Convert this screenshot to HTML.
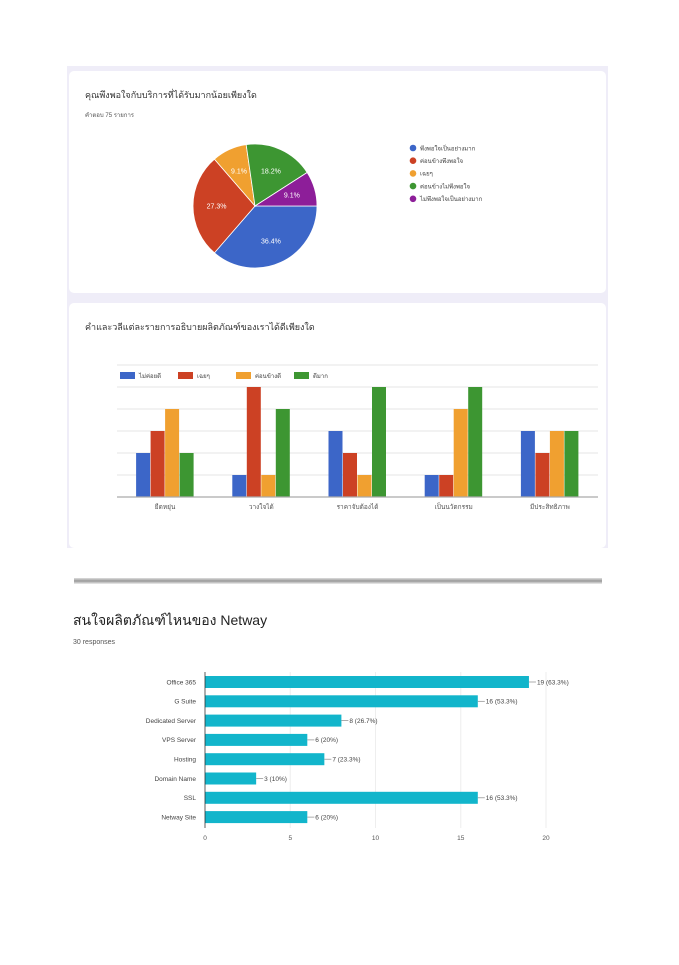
<!DOCTYPE html>
<html><head><meta charset="utf-8"><style>
body{margin:0;background:#fff;width:679px;height:960px;overflow:hidden;font-family:"Liberation Sans","Noto Sans CJK SC",sans-serif}
svg text{font-family:"Liberation Sans","Noto Sans CJK SC",sans-serif}
</style></head><body>
<svg width="679" height="960" id="s">
<rect x="67" y="66" width="541" height="482" fill="#efedf8"/>
<rect x="69" y="71" width="537" height="222" rx="5" fill="#fff"/>
<rect x="69" y="303" width="537" height="245" rx="5" fill="#fff"/>
<text x="85" y="98" font-size="9" fill="#333">คุณพึงพอใจกับบริการที่ได้รับมากน้อยเพียงใด</text>
<text x="85" y="117" font-size="6" fill="#555">คำตอบ 75 รายการ</text>
<text x="85" y="330" font-size="9" fill="#333">คำและวลีแต่ละรายการอธิบายผลิตภัณฑ์ของเราได้ดีเพียงใด</text>
<defs><linearGradient id="sep" x1="0" y1="0" x2="0" y2="1"><stop offset="0" stop-color="#ddd"/><stop offset="0.5" stop-color="#999"/><stop offset="1" stop-color="#eee"/></linearGradient></defs>
<rect x="74" y="578" width="528" height="6" fill="url(#sep)"/>
<text x="73" y="625" font-size="14" fill="#222">สนใจผลิตภัณฑ์ไหนของ Netway</text>
<text x="73" y="644" font-size="7" fill="#555">30 responses</text>
<g id="pie"></g><g id="bars"></g><g id="hbars"></g>
</svg>
<script>
const NS='http://www.w3.org/2000/svg';
function mk(p,t,a){const e=document.createElementNS(NS,t);for(const k in a)e.setAttribute(k,a[k]);p.appendChild(e);return e;}
// Pie data
const pieLabels=['พึงพอใจเป็นอย่างมาก','ค่อนข้างพึงพอใจ','เฉยๆ','ค่อนข้างไม่พึงพอใจ','ไม่พึงพอใจเป็นอย่างมาก'];
const pieValues=[36.4,27.3,9.1,18.2,9.1];
const pieColors=['#3c66c8','#cc4124','#f0a030','#3d9632','#8d1e99'];
// Grouped bar data
const barCats=['ยืดหยุ่น','วางใจได้','ราคาจับต้องได้','เป็นนวัตกรรม','มีประสิทธิภาพ'];
const barSeries=['ไม่ค่อยดี','เฉยๆ','ค่อนข้างดี','ดีมาก'];
const barVals=[[2,1,3,1,3],[3,5,2,1,2],[4,1,1,4,3],[2,4,5,5,3]];
// Horizontal bar data
const hCats=['Office 365','G Suite','Dedicated Server','VPS Server','Hosting','Domain Name','SSL','Netway Site'];
const hVals=[19,16,8,6,7,3,16,6];
const hLabels=['19 (63.3%)','16 (53.3%)','8 (26.7%)','6 (20%)','7 (23.3%)','3 (10%)','16 (53.3%)','6 (20%)'];
const hTicks=[0,5,10,15,20];

// Pie
const pg=document.getElementById('pie');
const cx=255,cy=206,r=62;
const tot=pieValues.reduce((a,b)=>a+b,0);
let ang=0;
pieValues.forEach((v,i)=>{
  const a0=ang,a1=ang+v/tot*2*Math.PI;ang=a1;
  const x0=cx+r*Math.cos(a0),y0=cy+r*Math.sin(a0),x1=cx+r*Math.cos(a1),y1=cy+r*Math.sin(a1);
  const p=mk(pg,'path',{d:`M${cx},${cy}L${x0},${y0}A${r},${r} 0 ${a1-a0>Math.PI?1:0} 1 ${x1},${y1}Z`,fill:pieColors[i],stroke:'#fff','stroke-width':'0.8'});
  
  
  const am=(a0+a1)/2,lr=r*0.62;
  const t=mk(pg,'text',{x:cx+lr*Math.cos(am),y:cy+lr*Math.sin(am)+2.5,'font-size':'7','text-anchor':'middle',fill:'#fff'});
  t.textContent=v+'%';
  
  
  const ly=148+i*12.7;
  const c=mk(pg,'circle',{cx:413,cy:ly,r:3.3,fill:pieColors[i]});
  
  
  const lt=mk(pg,'text',{x:420,y:ly+2.3,'font-size':'6',fill:'#444'});
  lt.textContent=pieLabels[i];
  
  
});

// Grouped bars
const bg=document.getElementById('bars');
const bL=117,bR=598,base=497,unit=22,barColors=['#3c66c8','#cc4124','#f0a030','#3d9632'];
const yS=v=>base-v*unit;
for(let g=1;g<=6;g++){const l=mk(bg,'line',{x1:bL,x2:bR,y1:yS(g),y2:yS(g),stroke:'#e6e6e6','stroke-width':'1'});}
const band=(bR-bL)/barCats.length,bw=14;
barCats.forEach((c,ci)=>{
  const cxm=bL+band*(ci+0.5);
  barSeries.forEach((s,si)=>{
    const v=barVals[si][ci];
    const x=cxm-2*bw+si*bw+0.5*si-1;
    const rc=mk(bg,'rect',{x:x,y:yS(v),width:bw,height:v*unit,fill:barColors[si]});
    
    
  });
  const t=mk(bg,'text',{x:cxm,y:509,'font-size':'6.5','text-anchor':'middle',fill:'#555'});
  t.textContent=c;
  
  
});
const ax=mk(bg,'line',{x1:bL,x2:bR,y1:base,y2:base,stroke:'#aaa','stroke-width':'1.2'});

barSeries.forEach((s,si)=>{
  const lx=120+si*58;
  const r2=mk(bg,'rect',{x:lx,y:372,width:15,height:7,fill:barColors[si]});
  
  const t=mk(bg,'text',{x:lx+19,y:378,'font-size':'6','fill':'#444'});
  t.textContent=s;
  
});

// Horizontal bars
const hg=document.getElementById('hbars');
const hx0=205,hpu=17.05,hTop=682,hStep=19.3,hH=12;
const xS=v=>hx0+v*hpu;
hTicks.forEach(t=>{
  if(t>0){const l=mk(hg,'line',{x1:xS(t),x2:xS(t),y1:672,y2:828,stroke:'#eee'});}
  const tx=mk(hg,'text',{x:xS(t),y:840,'font-size':'6.5','text-anchor':'middle',fill:'#555'});
  tx.textContent=t;
  
});
hCats.forEach((c,i)=>{
  const y=hTop+i*hStep;
  const rc=mk(hg,'rect',{x:hx0,y:y-hH/2,width:hVals[i]*hpu,height:hH,fill:'#12b5cb'});
  
  const lb=mk(hg,'text',{x:196,y:y+2.3,'font-size':'6.5','text-anchor':'end',fill:'#444'});
  lb.textContent=c;
  
  const ln=mk(hg,'line',{x1:xS(hVals[i]),x2:xS(hVals[i])+7,y1:y,y2:y,stroke:'#888','stroke-width':'0.7'});
  
  const vl=mk(hg,'text',{x:xS(hVals[i])+8,y:y+2.3,'font-size':'6.5',fill:'#444'});
  vl.textContent=hLabels[i];
  
});
const ya=mk(hg,'line',{x1:hx0,x2:hx0,y1:672,y2:828,stroke:'#333','stroke-width':'0.8'});

</script>
</body></html>
